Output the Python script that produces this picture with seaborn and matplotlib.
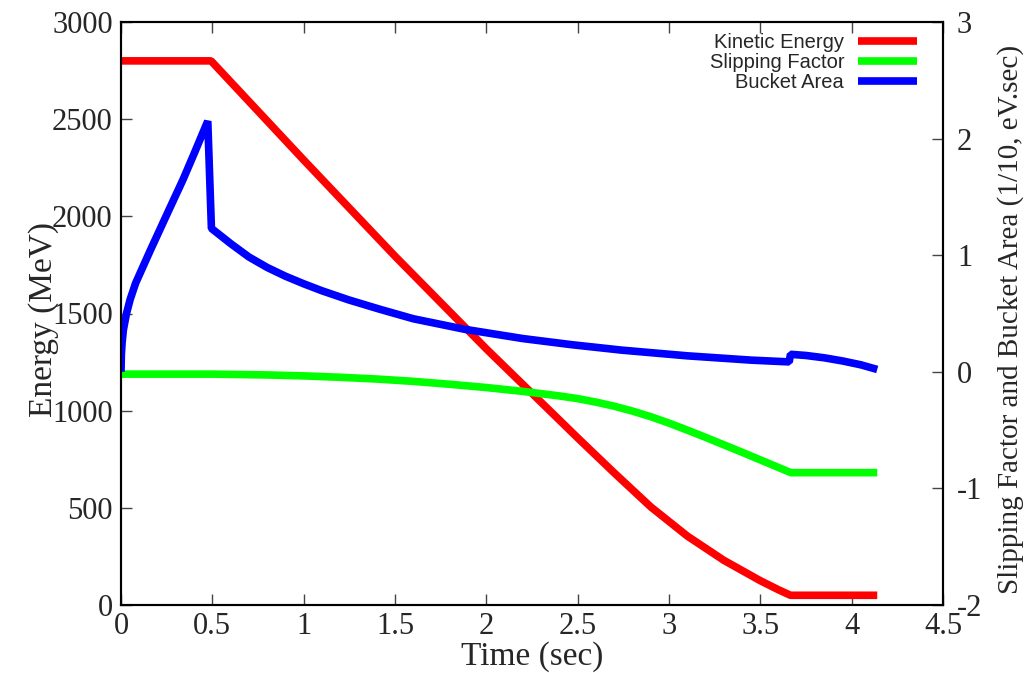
import matplotlib
matplotlib.use("Agg")
import matplotlib.pyplot as plt
import seaborn as sns
import numpy as np

# ---- data ----
time_energy = [0.0, 0.493, 1.0, 1.5, 2.0, 2.5, 2.7, 2.9, 3.1, 3.3, 3.5, 3.6, 3.665, 4.14]
kinetic_energy = [2800, 2800, 2290, 1795, 1318, 860, 680, 505, 355, 230, 125, 78, 50, 50]

time_slip = [0.0, 0.5, 0.8, 1.0, 1.2, 1.4, 1.6, 1.8, 2.0, 2.2, 2.4, 2.5, 2.6, 2.7, 2.8, 2.9, 3.0,
             3.1, 3.2, 3.4, 3.667, 4.14]
slipping_factor = [-0.02, -0.02, -0.027, -0.035, -0.047, -0.062, -0.082, -0.107, -0.135, -0.168,
                   -0.207, -0.23, -0.26, -0.295, -0.337, -0.385, -0.44, -0.50, -0.562, -0.69,
                   -0.865, -0.865]

time_bucket = [0.0, 0.002, 0.006, 0.013, 0.03, 0.05, 0.08, 0.12, 0.16, 0.21, 0.26, 0.34, 0.40, 0.475,
               0.495, 0.6, 0.7, 0.8, 0.9, 1.0, 1.1, 1.25, 1.42, 1.6, 1.88, 2.2, 2.47, 2.74, 3.1, 3.45,
               3.658, 3.665, 3.75, 3.85, 3.95, 4.05, 4.14]
bucket_area = [0.0, 0.15, 0.25, 0.36, 0.50, 0.62, 0.76, 0.90, 1.04, 1.21, 1.38, 1.65, 1.87, 2.15,
               1.23, 1.10, 0.985, 0.895, 0.82, 0.755, 0.695, 0.615, 0.535, 0.455, 0.365, 0.285,
               0.232, 0.186, 0.137, 0.10, 0.085, 0.15, 0.14, 0.12, 0.093, 0.06, 0.02]

x_ticks = [0, 0.5, 1, 1.5, 2, 2.5, 3, 3.5, 4, 4.5]
x_tick_labels = ["0", "0.5", "1", "1.5", "2", "2.5", "3", "3.5", "4", "4.5"]
y_ticks = [0, 500, 1000, 1500, 2000, 2500, 3000]
y2_ticks = [-2, -1, 0, 1, 2, 3]

sns.set_style("white")
plt.rcParams['font.family'] = ['Liberation Serif', 'DejaVu Serif']
plt.rcParams['axes.unicode_minus'] = False

fig = plt.figure(figsize=(10.33, 6.73), dpi=100)
ax = fig.add_axes([121/1033, 68/673, 822/1033, 583/673])
ax2 = ax.twinx()

lw = 5.5
line_kw = dict(sort=False, estimator=None, legend=False, lw=lw,
               solid_joinstyle='bevel', solid_capstyle='butt')
sns.lineplot(x=time_energy, y=kinetic_energy, ax=ax, color="#ff0000", **line_kw)
sns.lineplot(x=time_slip, y=slipping_factor, ax=ax2, color="#00ff00", **line_kw)
sns.lineplot(x=time_bucket, y=bucket_area, ax=ax2, color="#0000ff", **line_kw)

ax.set_xlim(0, 4.5)
ax.set_ylim(0, 3000)
ax2.set_ylim(-2, 3)
ax.set_xticks(x_ticks)
ax.set_xticklabels(x_tick_labels)
ax.set_yticks(y_ticks)
ax2.set_yticks(y2_ticks)

for a in (ax, ax2):
    for s in a.spines.values():
        s.set_visible(True)
        s.set_color("black")
        s.set_linewidth(1.5)

ax.tick_params(axis='x', direction='in', length=8, width=1, color='#444444',
               labelsize=22, pad=5, top=True, bottom=True)
ax.tick_params(axis='y', direction='in', length=8, width=1, color='#444444',
               labelsize=22, pad=6, left=True, right=False)
ax2.tick_params(axis='y', direction='in', length=8, width=1, color='#444444',
                labelsize=22, pad=10, right=True, left=False)

ax.set_xlabel("Time (sec)", fontsize=24, labelpad=0)
ax.set_ylabel("Energy (MeV)", fontsize=24)
ax.yaxis.set_label_coords(-0.075, 0.49)
ax2.set_ylabel("Slipping Factor and Bucket Area (1/10, eV.sec)", fontsize=21)
ax2.yaxis.set_label_coords(1.066, 0.49)

handles = ax.get_lines()[:1] + ax2.get_lines()[:2]
labels = ["Kinetic Energy", "Slipping Factor", "Bucket Area"]
leg = ax2.legend(handles, labels, loc="upper right", bbox_to_anchor=(0.968, 0.981),
                 frameon=False, markerfirst=False, handlelength=2.9, handletextpad=0.7,
                 labelspacing=0.05, borderpad=0, borderaxespad=0,
                 prop={'family': 'Liberation Sans', 'size': 14.5})
for col in leg._legend_handle_box.get_children():
    col.align = "right"

fig.savefig("out.png", dpi=100)
